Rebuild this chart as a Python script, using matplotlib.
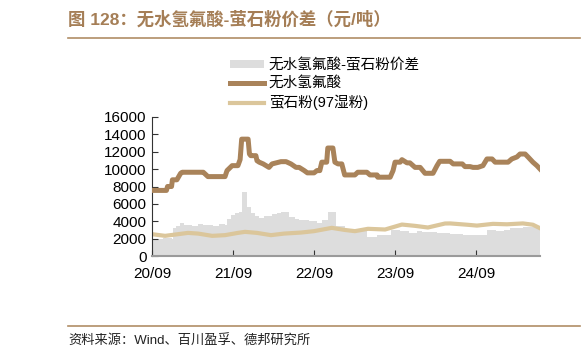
import numpy as np
import pandas as pd
import matplotlib
matplotlib.use('Agg')
import matplotlib.pyplot as plt
from matplotlib.lines import Line2D
from matplotlib.patches import Patch

plt.rcParams['font.family'] = ['Liberation Sans', 'Noto Sans CJK SC']

# 无水氢氟酸 (元/吨)
hf_dates = ['2020-09-01', '2020-11-05', '2020-11-10', '2020-11-28', '2020-12-02', '2020-12-22',
            '2021-01-08', '2021-01-15', '2021-04-20', '2021-04-28', '2021-05-11', '2021-07-27',
            '2021-08-05', '2021-08-28', '2021-09-23', '2021-10-03', '2021-10-10', '2021-11-08',
            '2021-11-14', '2021-11-20', '2021-12-13', '2021-12-18', '2021-12-28', '2022-01-15',
            '2022-02-10', '2022-02-24', '2022-04-05', '2022-04-28', '2022-05-20', '2022-06-12',
            '2022-06-26', '2022-07-19', '2022-08-02', '2022-09-01', '2022-09-14', '2022-09-27',
            '2022-10-06', '2022-10-28', '2022-11-02', '2022-11-25', '2022-12-04', '2022-12-18',
            '2023-01-04', '2023-01-17', '2023-03-04', '2023-03-17', '2023-04-27', '2023-05-11',
            '2023-06-12', '2023-06-15', '2023-08-10', '2023-08-23', '2023-09-01', '2023-09-24',
            '2023-10-02', '2023-10-25', '2023-11-07', '2023-11-30', '2023-12-23', '2024-01-14',
            '2024-02-19', '2024-03-08', '2024-03-20', '2024-05-06', '2024-05-20', '2024-06-30',
            '2024-07-12', '2024-08-04', '2024-08-17', '2024-09-08', '2024-10-01', '2024-10-19',
            '2024-11-11', '2024-11-25', '2025-01-22', '2025-02-08', '2025-03-03', '2025-03-17',
            '2025-04-09', '2025-04-22', '2025-05-14', '2025-06-01', '2025-06-15']
hf_vals = [7550, 7550, 8000, 8000, 8770, 8770,
           9520, 9640, 9640, 9450, 9140, 9140,
           9830, 10400, 10400, 11100, 13450, 13450,
           11740, 11550, 11550, 10970, 10800, 10600,
           10200, 10600, 10860, 10860, 10600, 10200,
           10200, 9830, 9570, 9570, 9830, 9830,
           10800, 10800, 12430, 12430, 10800, 10600,
           10600, 9330, 9330, 9640, 9640, 9330,
           9330, 9070, 9070, 9830, 10800, 10800,
           11090, 10720, 10720, 10200, 10200, 9520,
           9520, 10400, 10900, 10900, 10600, 10600,
           10290, 10290, 10200, 10200, 10400, 11170,
           11170, 10800, 10800, 11170, 11400, 11740,
           11740, 11400, 10800, 10400, 10020]

# 萤石粉(97湿粉)
fl_dates = ['2020-09-01', '2020-10-30', '2020-12-27', '2021-02-10', '2021-03-28', '2021-05-30',
            '2021-07-27', '2021-09-23', '2021-10-25', '2021-12-18', '2022-02-19', '2022-04-19',
            '2022-07-05', '2022-09-01', '2022-11-20', '2023-01-17', '2023-03-04', '2023-05-02',
            '2023-07-18', '2023-10-02', '2023-11-30', '2024-01-27', '2024-04-13', '2024-05-06',
            '2024-07-21', '2024-09-04', '2024-11-15', '2025-01-17', '2025-03-30', '2025-05-14',
            '2025-06-15']
fl_vals = [2510, 2320, 2510, 2660, 2580, 2320,
           2400, 2660, 2780, 2660, 2400, 2580,
           2700, 2860, 3240, 3000, 2860, 3130,
           3050, 3620, 3470, 3280, 3740, 3750,
           3600, 3500, 3700, 3650, 3750, 3600,
           3200]

# 无水氢氟酸-萤石粉价差
sp_dates = ['2020-09-01', '2020-10-20', '2020-12-01', '2020-12-05', '2020-12-20', '2021-01-05',
            '2021-01-25', '2021-03-01', '2021-03-25', '2021-04-20', '2021-06-01', '2021-07-01',
            '2021-07-27', '2021-08-05', '2021-08-25', '2021-09-10', '2021-09-30', '2021-10-10',
            '2021-11-05', '2021-11-20', '2021-12-10', '2021-12-25', '2022-01-20', '2022-02-24',
            '2022-03-20', '2022-04-05', '2022-05-10', '2022-06-05', '2022-06-26', '2022-08-10',
            '2022-09-14', '2022-10-06', '2022-11-02', '2022-12-10', '2023-01-17', '2023-03-10',
            '2023-04-27', '2023-06-10', '2023-08-12', '2023-09-24', '2023-11-01', '2023-12-10',
            '2024-01-01', '2024-03-08', '2024-04-10', '2024-05-06', '2024-07-01', '2024-08-17',
            '2024-10-19', '2024-12-01', '2025-01-03', '2025-01-04', '2025-01-05', '2025-01-31',
            '2025-04-01', '2025-06-15']
sp_vals = [2000, 2100, 2000, 3200, 3500, 3800,
           3600, 3500, 3700, 3600, 3500, 3650,
           3600, 4300, 4700, 5000, 5100, 7400,
           5600, 5000, 4600, 4400, 4600, 4800,
           5000, 5100, 4500, 4300, 4200, 4000,
           3800, 4200, 5100, 3500, 2800, 2900,
           2200, 2400, 3000, 2900, 2700, 2900,
           2800, 2700, 2600, 2500, 2400, 2400,
           3000, 2900, 3000, 7500, 3000, 3200,
           3300, 3200]

x_ticks = ['2020-09-01', '2021-09-01', '2022-09-01', '2023-09-01', '2024-09-01']
x_labels = ['20/09', '21/09', '22/09', '23/09', '24/09']
y_ticks = [0, 2000, 4000, 6000, 8000, 10000, 12000, 14000, 16000]

brown = '#A9835A'
tan = '#DBC69B'
gray = '#DDDDDD'
title_col = '#A57E56'

W, H = 582, 359
fig = plt.figure(figsize=(W / 100, H / 100), dpi=100)
ax = fig.add_axes([152 / W, 1 - 256 / H, 388 / W, 139 / H])

sp_d = pd.to_datetime(sp_dates)
ax.fill_between(sp_d, sp_vals, 0, step='post', color=gray, lw=0, zorder=1)
ax.plot(pd.to_datetime(hf_dates), hf_vals, color=brown, lw=3.6, solid_joinstyle='round', zorder=3)
ax.plot(pd.to_datetime(fl_dates), fl_vals, color=tan, lw=3.0, zorder=2)

ax.set_xlim(pd.Timestamp('2020-09-01'), pd.Timestamp('2025-06-15'))
ax.set_ylim(0, 16000)
ax.set_yticks(y_ticks)
ax.set_yticklabels([str(v) for v in y_ticks])
ax.set_xticks(pd.to_datetime(x_ticks))
ax.set_xticklabels(x_labels)

for s in ['top', 'right']:
    ax.spines[s].set_visible(False)
ax.spines['left'].set_color('#333333')
ax.spines['left'].set_linewidth(0.8)
ax.spines['bottom'].set_color('#9A9A9A')
ax.spines['bottom'].set_linewidth(1.5)
ax.tick_params(axis='y', direction='in', length=4, width=0.8, labelsize=11, pad=4, color='#333333')
ax.tick_params(axis='x', direction='in', length=4, width=0.8, labelsize=11, pad=8, color='#333333')

handles = [Patch(facecolor=gray, edgecolor='none'),
           Line2D([], [], color=brown, lw=3.6),
           Line2D([], [], color=tan, lw=3.0)]
labels = ['无水氢氟酸-萤石粉价差', '无水氢氟酸', '萤石粉(97湿粉)']
fig.legend(handles, labels, loc='upper left', bbox_to_anchor=(230 / W, 1 - 58 / H),
           frameon=False, fontsize=10.5, handlelength=2.3, handleheight=0.5,
           handletextpad=0.35, labelspacing=0.3, borderpad=0, borderaxespad=0)

fig.text(68 / W, 1 - 19 / H, '图 128：无水氢氟酸-萤石粉价差（元/吨）', color=title_col,
         fontsize=12.5, fontweight='bold', va='center', ha='left')
fig.add_artist(Line2D([68 / W, 580 / W], [1 - 38 / H, 1 - 38 / H], color='#B08D66', lw=1.2))
fig.add_artist(Line2D([68 / W, 580 / W], [1 - 326 / H, 1 - 326 / H], color='#B08D66', lw=1.2))
fig.text(68 / W, 1 - 341 / H, '资料来源：Wind、百川盈孚、德邦研究所', color='#222222',
         fontsize=9.5, va='center', ha='left')

fig.savefig('out.png', dpi=100)
